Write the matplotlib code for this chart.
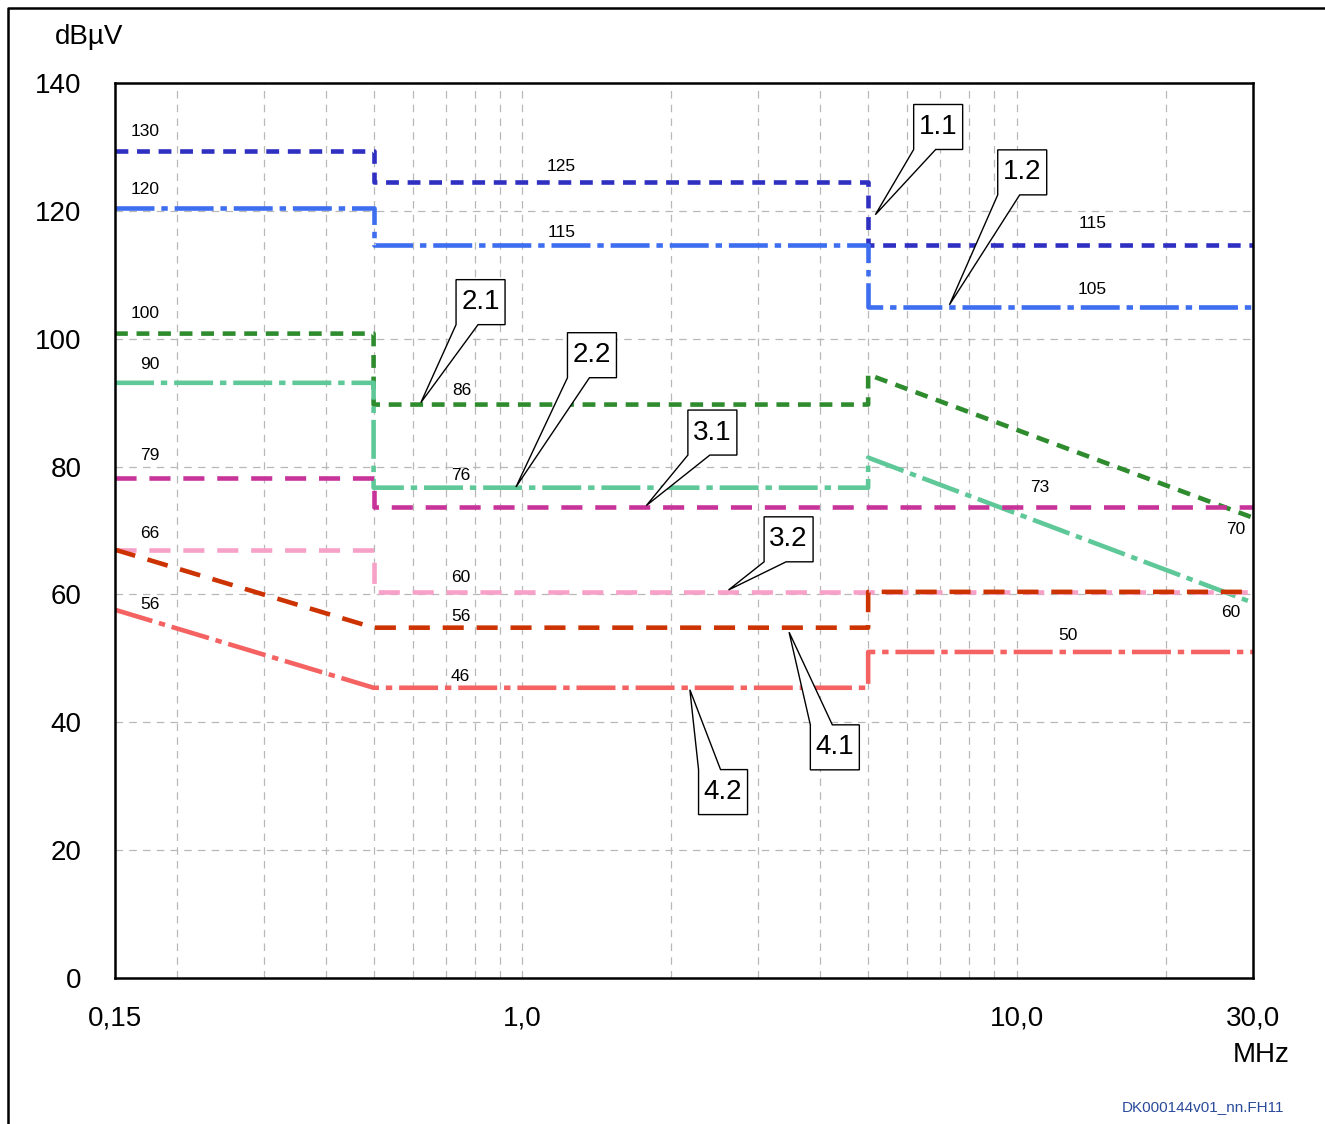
import numpy as np
import matplotlib
matplotlib.use("Agg")
import matplotlib.pyplot as plt
from matplotlib.patches import Polygon
from matplotlib.lines import Line2D

plt.rcParams['font.family'] = ['Liberation Sans', 'DejaVu Sans']

# limit lines: frequency (MHz) breakpoints and level (dBuV), steps use repeated x
f_11 = [0.15, 0.5, 0.5, 5, 5, 30]
db_11 = [129.3, 129.3, 124.5, 124.5, 114.6, 114.6]

f_12 = [0.15, 0.5, 0.5, 5, 5, 30]
db_12 = [120.5, 120.5, 114.6, 114.6, 105.0, 105.0]

f_21 = [0.15, 0.5, 0.5, 5, 5, 30]
db_21 = [100.8, 100.8, 89.7, 89.7, 94.4, 72.0]

f_22 = [0.15, 0.5, 0.5, 5, 5, 30]
db_22 = [93.1, 93.1, 76.7, 76.7, 81.4, 58.7]

f_31 = [0.15, 0.5, 0.5, 30]
db_31 = [78.2, 78.2, 73.6, 73.6]

f_32 = [0.15, 0.5, 0.5, 30]
db_32 = [67.0, 67.0, 60.4, 60.4]

f_41 = [0.15, 0.5, 5, 5, 30]
db_41 = [67.0, 54.8, 54.8, 60.4, 60.4]

f_42 = [0.15, 0.5, 5, 5, 30]
db_42 = [57.6, 45.4, 45.4, 51.0, 51.0]

# nominal values written next to the lines
value_texts = ["130", "120", "100", "90", "79", "66", "56",
               "125", "115", "86", "76", "60", "56", "46",
               "115", "105", "73", "70", "60", "50"]
value_f = [0.1725, 0.1725, 0.1725, 0.1767, 0.1767, 0.1767, 0.1767,
           1.2, 1.2, 0.755, 0.75, 0.75, 0.75, 0.75,
           14.2, 14.2, 11.1, 27.7, 27.1, 12.7]
value_db = [132.4, 123.3, 103.9, 95.9, 81.8, 69.5, 58.4,
            126.9, 116.6, 91.9, 78.6, 62.6, 56.5, 47.1,
            118.0, 107.7, 76.8, 70.1, 57.1, 53.5]

# callouts: name, box corner (f, dB), tip (f, dB), box side the wedge leaves from
callout_names = ["1.1", "1.2", "2.1", "2.2", "3.1", "3.2", "4.1", "4.2"]
callout_corner = [(6.18, 129.6), (9.14, 122.5), (0.734, 102.2), (1.233, 93.9),
                  (2.16, 81.8), (3.08, 65.1), (3.82, 39.6), (2.27, 32.6)]
callout_tip = [(5.17, 119.4), (7.3, 105.3), (0.623, 90.0), (0.97, 76.8),
               (1.78, 73.9), (2.61, 60.7), (3.46, 54.1), (2.18, 45.1)]
callout_side = ["bottom", "bottom", "bottom", "bottom",
                "bottom", "bottom", "top", "top"]

xtick_vals = [0.15, 1, 10, 30]
xtick_labels = ["0,15", "1,0", "10,0", "30,0"]
ytick_vals = [0, 20, 40, 60, 80, 100, 120, 140]

W, H = 1325, 1124
fig = plt.figure(figsize=(W / 100, H / 100), dpi=100)
ax = fig.add_axes([115 / W, 1 - 978 / H, (1253 - 115) / W, (978 - 83) / H])

ax.set_xscale('log')
ax.set_xlim(0.15, 30)
ax.set_ylim(0, 140)

# grid
grid_kw = dict(color='#b8b8b8', lw=0.9, linestyle=(0, (6, 5)), zorder=1)
for v in [0.2, 0.3, 0.4, 0.5, 0.6, 0.7, 0.8, 0.9, 1, 2, 3, 4, 5, 6, 7, 8, 9, 10, 20]:
    ax.axvline(v, **grid_kw)
for v in ytick_vals[1:-1]:
    ax.axhline(v, **grid_kw)

lw = 3.3
short_dash = (0, (2.8, 1.9))
long_dash = (0, (4.6, 2.8))
dash_dot = (0, (8.5, 1.5, 1.4, 1.5))

ax.plot(f_11, db_11, color='#2f2fc2', lw=lw, linestyle=short_dash, zorder=3)
ax.plot(f_12, db_12, color='#3d6ef0', lw=lw, linestyle=dash_dot, zorder=3)
ax.plot(f_21, db_21, color='#2e8b2e', lw=lw, linestyle=short_dash, zorder=3)
ax.plot(f_22, db_22, color='#5fc898', lw=lw, linestyle=dash_dot, zorder=3)
ax.plot(f_31, db_31, color='#c8339a', lw=lw, linestyle=long_dash, zorder=3)
ax.plot(f_32, db_32, color='#f7a0c8', lw=lw, linestyle=long_dash, zorder=3)
ax.plot(f_41, db_41, color='#cc3300', lw=lw, linestyle=long_dash, zorder=4)
ax.plot(f_42, db_42, color='#f46262', lw=lw, linestyle=dash_dot, zorder=3)

for t, fx, dy in zip(value_texts, value_f, value_db):
    ax.text(fx, dy, t, fontsize=12.5, ha='center', va='center', zorder=5)

# ticks / spines
ax.set_xticks(xtick_vals)
ax.set_xticklabels(xtick_labels)
ax.xaxis.set_minor_locator(matplotlib.ticker.NullLocator())
ax.set_yticks(ytick_vals)
ax.tick_params(axis='both', length=0, labelsize=20)
ax.tick_params(axis='x', pad=20)
ax.tick_params(axis='y', pad=24)
for s in ax.spines.values():
    s.set_linewidth(1.8)
    s.set_zorder(6)

fig.canvas.draw()

# callout boxes with wedge pointers, built in display pixels
bw, bh, base = 49, 45, 22
for name, corner, tip, side in zip(callout_names, callout_corner, callout_tip, callout_side):
    cx, cy = ax.transData.transform(corner)
    tx, ty = ax.transData.transform(tip)
    if side == "bottom":
        pts = [(cx, cy + bh), (cx + bw, cy + bh), (cx + bw, cy),
               (cx + base, cy), (tx, ty), (cx, cy)]
        mid = (cx + bw / 2, cy + bh / 2)
    else:
        pts = [(cx, cy - bh), (cx + bw, cy - bh), (cx + bw, cy),
               (cx + base, cy), (tx, ty), (cx, cy)]
        mid = (cx + bw / 2, cy - bh / 2)
    poly = Polygon(pts, closed=True, fc='white', ec='black', lw=1.0,
                   transform=None, zorder=7, clip_on=False)
    fig.add_artist(poly)
    fig.text(mid[0] / W, mid[1] / H, name, fontsize=20, ha='center', va='center',
             zorder=8)

# labels around the plot
fig.text(55 / W, 1 - 37 / H, "dBµV", fontsize=20, ha='left', va='center')
fig.text(1290 / W, 1 - 1055 / H, "MHz", fontsize=20, ha='right', va='center')
fig.text(1122 / W, 1 - 1107 / H, "DK000144v01_nn.FH11", fontsize=11,
         color='#2a4a9a', ha='left', va='center')

# outer frame
fig.add_artist(Line2D([8 / W, 8 / W, 1], [0, 1 - 8 / H, 1 - 8 / H],
                      transform=fig.transFigure, color='black', lw=1.8))

fig.savefig("out.png", dpi=100)
